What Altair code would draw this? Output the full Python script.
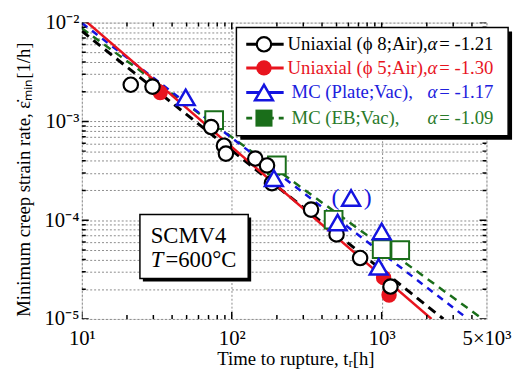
import altair as alt
import pandas as pd

# ---------------- data ----------------
# Uniaxial (phi 8; Air)
phi8_t = [21.2, 29.6, 72.9, 88.7, 91.4, 143.5, 171.9, 185.4, 338, 500, 718, 1145]
phi8_rate = [2.35e-3, 2.25e-3, 8.77e-4, 5.67e-4, 4.72e-4, 4.21e-4, 3.58e-4,
             2.37e-4, 1.28e-4, 7.18e-5, 4.14e-5, 2.13e-5]
# Uniaxial (phi 5; Air)
phi5_t = [33.3, 1030, 1120]
phi5_rate = [1.96e-3, 2.62e-5, 1.75e-5]
# MC (Plate; Vac)
plate_t = [49.3, 191, 508, 1000, 955]
plate_rate = [1.75e-3, 2.66e-4, 9.46e-5, 7.69e-5, 3.37e-5]
# MC (EB; Vac)
eb_t = [76.3, 200, 478, 1000, 1330]
eb_rate = [1.03e-3, 3.58e-4, 1.01e-4, 5.09e-5, 4.98e-5]
# bracketed MC (Plate; Vac) point "(triangle)"
paren_t = [625]
paren_rate = [1.68e-4]

# fitted power-law lines (end points)
fit_t_start = [10, 10, 10, 10]
fit_rate_start = [8.2e-3, 1.12e-2, 9.9e-3, 8.75e-3]
fit_t_end = [2580, 2150, 3760, 4710]
fit_rate_end = [1e-5, 1e-5, 1e-5, 1e-5]

legend_names = ["Uniaxial (\u03d5 8;Air),", "Uniaxial (\u03d5 5;Air),",
                "MC (Plate;Vac),", "MC (EB;Vac),"]
legend_alpha = ["= -1.21", "= -1.30", "= -1.17", "= -1.09"]

x_label_values = [10, 100, 1000, 5000]
x_label_texts = ["10\u00b9", "10\u00b2", "10\u00b3", "5\u00d710\u00b3"]
y_label_values = [1e-5, 1e-4, 1e-3, 1e-2]
y_label_texts = ["10\u207b\u2075", "10\u207b\u2074", "10\u207b\u00b3", "10\u207b\u00b2"]

x_major_ticks = [10, 100, 1000]
x_minor_ticks = [m * d for d in (10, 100) for m in range(2, 10)] + [2000, 3000, 4000]
y_major_ticks = [1e-5, 1e-4, 1e-3, 1e-2]
y_minor_ticks = [round(m * 10.0 ** e, 12) for e in (-5, -4, -3) for m in range(2, 10)]
y_grid_values = sorted(y_major_ticks + y_minor_ticks)

# ---------------- styles ----------------
FONT = "Liberation Serif"
BLACK = "#000000"
RED = "#e8141e"
BLUE = "#1414e0"
GREEN = "#1a6e1a"
TXT = [BLACK, RED, "#2020dd", "#2a7a2a"]
GRID = "#8a8a8a"

xexpr = ""
for v, s in zip(x_label_values, x_label_texts):
    xexpr += f"abs(datum.value - {v}) < {v * 0.01} ? '{s}' : "
xexpr += "''"
yexpr = ""
for v, s in zip(y_label_values, y_label_texts):
    yexpr += f"abs(datum.value - {v!r}) < {v * 0.01!r} ? '{s}' : "
yexpr += "''"

xscale = alt.Scale(type="log", domain=[10, 5000], nice=False)
yscale = alt.Scale(type="log", domain=[1e-5, 1e-2], nice=False)

xaxis = alt.Axis(values=x_label_values, labelExpr=xexpr, grid=True, gridColor=GRID,
                 gridDash=[2, 2], gridWidth=1, ticks=False, tickSize=0, domain=False,
                 labelFont=FONT, labelFontSize=21, labelColor="black",
                 labelBaseline="alphabetic", labelPadding=26, labelFlush=False,
                 labelOverlap=False,
                 title="Time to rupture, t\u1d63[h]", titleFont=FONT, titleFontSize=19,
                 titleFontWeight="normal", titleColor="black", titleX=217, titleY=46,
                 titleAlign="center", titleBaseline="alphabetic")
yaxis = alt.Axis(values=y_grid_values, labelExpr=yexpr, grid=True, gridColor=GRID,
                 gridDash=[2, 2], gridWidth=1, ticks=False, tickSize=0, domain=False,
                 labelFont=FONT, labelFontSize=21, labelColor="black",
                 labelAlign="right", labelBaseline="middle", labelPadding=3,
                 labelFlush=False, labelOverlap=False,
                 title="Minimum creep strain rate, \u03b5\u0307\u2098\u1d62\u2099[1/h]",
                 titleFont=FONT, titleFontSize=19, titleFontWeight="normal",
                 titleColor="black", titleAngle=270, titleX=-53, titleY=159,
                 titleAlign="center", titleBaseline="alphabetic")


def X():
    return alt.X("t:Q", scale=xscale, axis=xaxis)


def Y():
    return alt.Y("rate:Q", scale=yscale, axis=yaxis)


def df(t, r):
    return pd.DataFrame({"t": t, "rate": r})


one = alt.Data(values=[{"a": 1}])
layers = []

# fitted lines
fit_styles = [
    dict(color=BLACK, strokeWidth=3, strokeDash=[9, 6]),
    dict(color=RED, strokeWidth=2.5),
    dict(color=BLUE, strokeWidth=2.5, strokeDash=[7, 6]),
    dict(color=GREEN, strokeWidth=2.5, strokeDash=[8, 6]),
]
for i in [3, 2, 0, 1]:
    d = df([fit_t_start[i], fit_t_end[i]], [fit_rate_start[i], fit_rate_end[i]])
    layers.append(alt.Chart(d).mark_line(clip=True, **fit_styles[i]).encode(x=X(), y=Y()))

# data points
layers.append(alt.Chart(df(phi5_t, phi5_rate)).mark_point(
    shape="circle", filled=True, size=245, color=RED, opacity=1).encode(x=X(), y=Y()))
layers.append(alt.Chart(df(eb_t, eb_rate)).mark_point(
    shape="square", filled=True, size=324, fill="white", stroke=GREEN, strokeWidth=2,
    opacity=1).encode(x=X(), y=Y()))
layers.append(alt.Chart(df(phi8_t, phi8_rate)).mark_point(
    shape="circle", filled=True, size=215, fill="white", stroke=BLACK, strokeWidth=2.2,
    opacity=1).encode(x=X(), y=Y()))
layers.append(alt.Chart(df(plate_t, plate_rate)).mark_point(
    shape="triangle-up", filled=True, size=330, fill="white", stroke=BLUE,
    strokeWidth=2.5, opacity=1).encode(x=X(), y=Y()))
layers.append(alt.Chart(df(paren_t, paren_rate)).mark_point(
    shape="triangle-up", filled=True, size=330, fill="white", stroke=BLUE,
    strokeWidth=2.5, opacity=1).encode(x=X(), y=Y()))
for txt, dx in [("(", -16), (")", 17)]:
    layers.append(alt.Chart(df(paren_t, paren_rate)).mark_text(
        text=txt, dx=dx, font=FONT, fontSize=24, color=BLUE, baseline="middle",
        align="center").encode(x=X(), y=Y()))

# inward ticks on all four sides
for vals, size in [(x_major_ticks, 14), (x_minor_ticks, 8)]:
    for edge in (1e-5, 1e-2):
        layers.append(alt.Chart(df(vals, [edge] * len(vals))).mark_tick(
            orient="vertical", size=size, thickness=1.5, color=BLACK, clip=True,
            opacity=1).encode(x=X(), y=Y()))
for vals, size in [(y_major_ticks, 14), (y_minor_ticks, 8)]:
    for edge in (10, 5000):
        layers.append(alt.Chart(df([edge] * len(vals), vals)).mark_tick(
            orient="horizontal", size=size, thickness=1.5, color=BLACK, clip=True,
            opacity=1).encode(x=X(), y=Y()))

# SCMV4 box
layers.append(alt.Chart(one).mark_rect(color=BLACK).encode(
    x=alt.value(62), x2=alt.value(172), y=alt.value(198), y2=alt.value(263)))
layers.append(alt.Chart(one).mark_rect(fill="white", stroke=BLACK, strokeWidth=1.5).encode(
    x=alt.value(59), x2=alt.value(169), y=alt.value(195), y2=alt.value(260)))
layers.append(alt.Chart(one).mark_text(text="SCMV4", font=FONT, fontSize=23, color=BLACK,
                                       align="left", baseline="alphabetic").encode(
    x=alt.value(70), y=alt.value(224)))
layers.append(alt.Chart(one).mark_text(text="T", font=FONT, fontSize=23, fontStyle="italic",
                                       color=BLACK, align="left", baseline="alphabetic").encode(
    x=alt.value(70), y=alt.value(248)))
layers.append(alt.Chart(one).mark_text(text="=600\u00b0C", font=FONT, fontSize=23, color=BLACK,
                                       align="left", baseline="alphabetic").encode(
    x=alt.value(85), y=alt.value(248)))

# legend
layers.append(alt.Chart(one).mark_rect(color=BLACK).encode(
    x=alt.value(161), x2=alt.value(437), y=alt.value(9), y2=alt.value(119)))
layers.append(alt.Chart(one).mark_rect(fill="white", stroke=BLACK, strokeWidth=1.5).encode(
    x=alt.value(157), x2=alt.value(433), y=alt.value(5), y2=alt.value(115)))
row_y = [22, 46, 71, 97]
leg_line = [dict(color=BLACK, strokeWidth=3), dict(color=RED, strokeWidth=3),
            dict(color=BLUE, strokeWidth=3), dict(color=GREEN, strokeWidth=3, strokeDash=[6, 5])]
leg_mark = [dict(shape="circle", filled=True, size=215, fill="white", stroke=BLACK, strokeWidth=2.2),
            dict(shape="circle", filled=True, size=245, color=RED),
            dict(shape="triangle-up", filled=True, size=330, fill="white", stroke=BLUE, strokeWidth=2.5),
            dict(shape="square", filled=True, size=300, color=GREEN)]
for i in range(4):
    yy = row_y[i]
    layers.append(alt.Chart(one).mark_rule(**leg_line[i]).encode(
        x=alt.value(167), x2=alt.value(205), y=alt.value(yy)))
    layers.append(alt.Chart(one).mark_point(opacity=1, **leg_mark[i]).encode(
        x=alt.value(185), y=alt.value(yy)))
    layers.append(alt.Chart(one).mark_text(text=legend_names[i], font=FONT, fontSize=19,
                                           color=TXT[i], align="left", baseline="alphabetic").encode(
        x=alt.value(209 if i < 2 else 213), y=alt.value(yy + 6)))
    layers.append(alt.Chart(one).mark_text(text="\u03b1", font=FONT, fontSize=19, fontStyle="italic",
                                           color=TXT[i], align="left", baseline="alphabetic").encode(
        x=alt.value(351), y=alt.value(yy + 6)))
    layers.append(alt.Chart(one).mark_text(text=legend_alpha[i], font=FONT, fontSize=19,
                                           color=TXT[i], align="left", baseline="alphabetic").encode(
        x=alt.value(363), y=alt.value(yy + 6)))

chart = alt.layer(*layers).properties(
    width=411, height=301,
    padding={"left": 75, "top": 12, "right": 30, "bottom": 49},
    autosize=alt.AutoSizeParams(type="none"),
).configure_view(stroke="black", strokeWidth=3).configure(background="white")

chart.save("out.html", embed_options={"renderer": "svg", "actions": False})
